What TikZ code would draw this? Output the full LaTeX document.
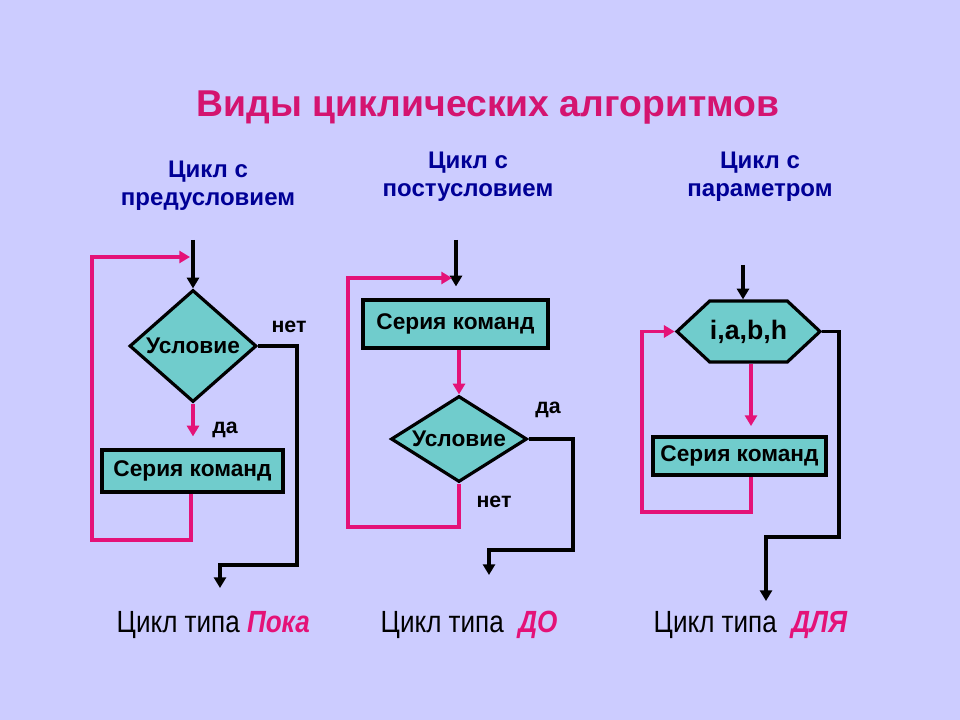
\documentclass[tikz,border=0pt]{standalone}
\usepackage{fontspec}
\setmainfont{Liberation Sans}
\usepackage{graphicx}
\usetikzlibrary{arrows.meta,shapes.geometric,shapes.symbols}
\definecolor{bgc}{RGB}{204,204,255}
\definecolor{cellc}{RGB}{112,204,204}
\definecolor{pinkc}{RGB}{228,18,120}
\definecolor{titlec}{RGB}{212,20,112}
\definecolor{subc}{RGB}{0,0,150}
\begin{document}
\begin{tikzpicture}[x=0.75pt,y=-0.75pt,
  blk/.style={line width=2.6pt, draw=black},
  pnk/.style={line width=2.6pt, draw=pinkc},
  arr/.style={-{Triangle[length=8pt,width=9pt]}},
  cmdbox/.style={draw=black, line width=2.4pt, fill=cellc, inner sep=0pt,
     font=\fontsize{17}{20}\selectfont\bfseries},
  cond/.style={diamond, draw=black, line width=2.4pt, fill=cellc, inner sep=0pt,
     font=\fontsize{17}{20}\selectfont\bfseries},
  lbl/.style={font=\fontsize{16}{19}\selectfont\bfseries},
  sub/.style={font=\fontsize{18}{21}\selectfont\bfseries, text=subc, align=center},
  bot/.style={font=\fontsize{23}{27}\selectfont}
]
\fill[bgc] (0,0) rectangle (960,720);
\useasboundingbox (0,0) rectangle (960,720);

% title and subtitles
\node[font=\fontsize{28}{32}\selectfont\bfseries, text=titlec] (title) at (488,108) {Виды циклических алгоритмов};
\node[sub] (s1) at (208,186) {Цикл с\\предусловием};
\node[sub] (s2) at (468,177) {Цикл с\\постусловием};
\node[sub] (s3) at (760,177) {Цикл с\\параметром};

% ---------- column 1 ----------
\node[cond, minimum width=95.25pt, minimum height=84pt] (d1) at (193,346) {\makebox[0pt]{Условие}};
\node[cmdbox, minimum width=135.75pt, minimum height=31.5pt] (b1) at (192.5,471) {Серия команд};
\coordinate (e1) at (193,240);
\coordinate (n1a) at (297,346);
\coordinate (n1b) at (297,565);
\coordinate (n1c) at (220,565);
\coordinate (x1) at (220,588);
\coordinate (l1a) at (191,540);
\coordinate (l1b) at (92,540);
\coordinate (l1c) at (92,257);
\coordinate (l1d) at (190,257);
\draw[blk,arr] (e1) -- (d1.north);
\draw[blk,arr] (d1.east) -- (n1a) -- (n1b) -- (n1c) -- (x1);
\draw[pnk,arr,shorten >=9pt] (d1.south) -- (d1.south |- b1.north);
\draw[pnk,arr] (b1.south -| l1a) -- (l1a) -- (l1b) -- (l1c) -- (l1d);
\node[lbl] (no1) at (289,327) {нет};
\node[lbl] (yes1) at (225,430) {да};

% ---------- column 2 ----------
\node[cmdbox, minimum width=138.75pt, minimum height=36pt] (b2) at (455.5,324) {Серия команд};
\node[cond, minimum width=102pt, minimum height=64.5pt] (d2) at (459,439) {\makebox[0pt]{Условие}};
\coordinate (e2) at (456,240);
\coordinate (n2a) at (573,439);
\coordinate (n2b) at (573,550);
\coordinate (n2c) at (489,550);
\coordinate (x2) at (489,575);
\coordinate (l2a) at (459,527);
\coordinate (l2b) at (348,527);
\coordinate (l2c) at (348,278);
\coordinate (l2d) at (452,278);
\draw[blk,arr,shorten >=9pt] (e2) -- (e2 |- b2.north);
\draw[pnk,arr] (b2.south -| d2.north) -- (d2.north);
\draw[blk,arr] (d2.east) -- (n2a) -- (n2b) -- (n2c) -- (x2);
\draw[pnk,arr] (d2.south) -- (l2a) -- (l2b) -- (l2c) -- (l2d);
\node[lbl] (yes2) at (548,410) {да};
\node[lbl] (no2) at (494,502) {нет};

% ---------- column 3 ----------
\node[signal, signal to=west and east, signal pointer angle=86, draw=black, line width=2.4pt,
      fill=cellc, inner sep=0pt, minimum width=107.25pt, minimum height=45.75pt,
      font=\fontsize{20}{24}\selectfont\bfseries] (h3) at (748.5,331.5) {i,a,b,h};
\node[cmdbox, minimum width=129.75pt, minimum height=28.5pt] (b3) at (739.5,456) {Серия команд};
\coordinate (e3) at (743,265);
\coordinate (p3) at (751,362);
\coordinate (n3a) at (839,331.5);
\coordinate (n3b) at (839,537);
\coordinate (n3c) at (766,537);
\coordinate (x3) at (766,601);
\coordinate (l3a) at (751,512);
\coordinate (l3b) at (642,512);
\coordinate (l3c) at (642,331.5);
\draw[blk,arr] (e3) -- (e3 |- h3.north);
\draw[pnk,arr,shorten >=7pt] (h3.south -| p3) -- (p3 |- b3.north);
\draw[pnk,arr] (b3.south -| l3a) -- (l3a) -- (l3b) -- (l3c) -- (h3.west);
\draw[blk,arr] (h3.east) -- (n3a) -- (n3b) -- (n3c) -- (x3);

% ---------- bottom captions ----------
\node[bot, anchor=west] (c1) at (112,625) {\scalebox{0.85}[1]{Цикл типа \textcolor{pinkc}{\bfseries\itshape Пока}}};
\node[bot, anchor=west] (c2) at (376,625) {\scalebox{0.85}[1]{Цикл типа \ \textcolor{pinkc}{\bfseries\itshape ДО}}};
\node[bot, anchor=west] (c3) at (649,625) {\scalebox{0.85}[1]{Цикл типа \ \textcolor{pinkc}{\bfseries\itshape ДЛЯ}}};
\end{tikzpicture}
\end{document}
